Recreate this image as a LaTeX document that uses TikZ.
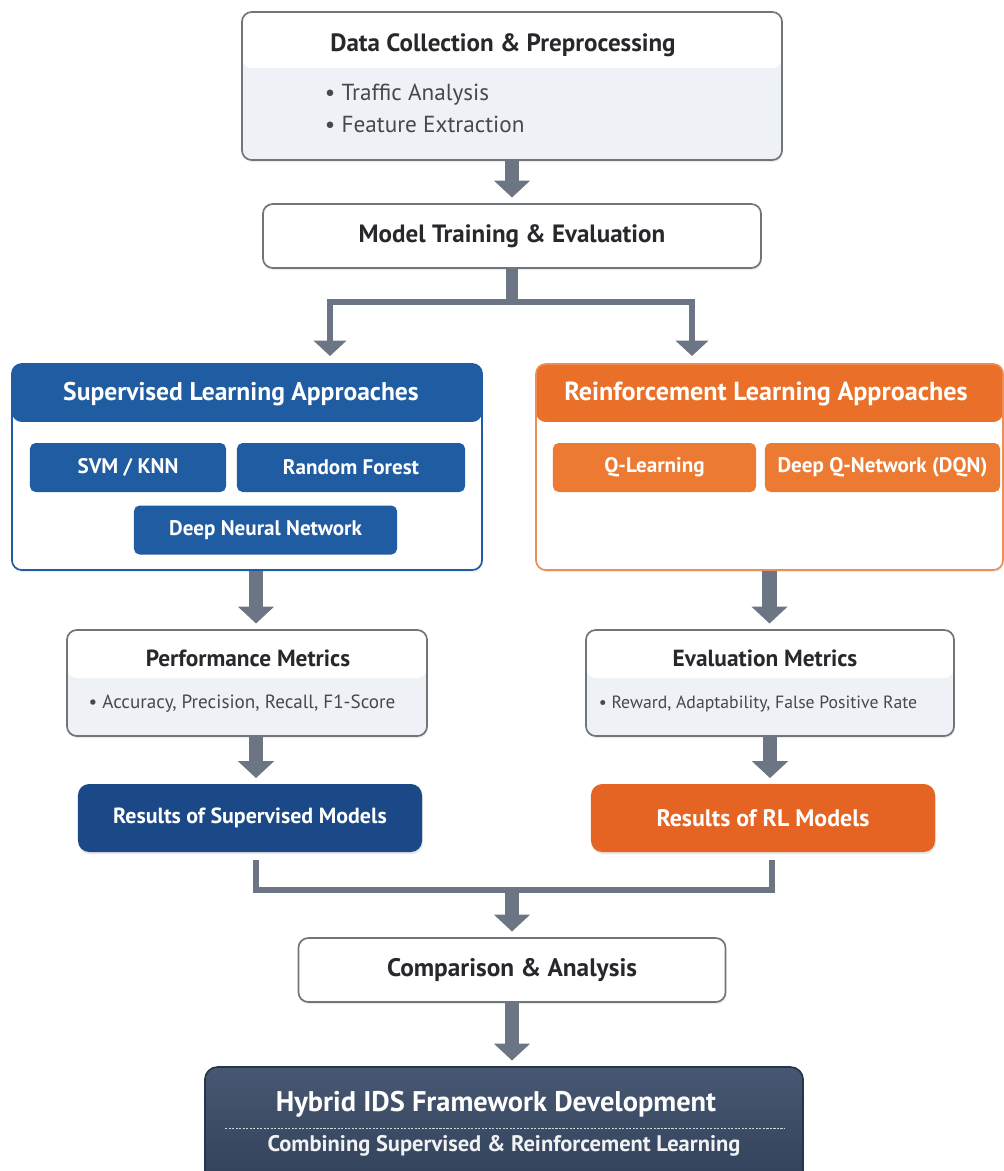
\documentclass[tikz,border=0pt]{standalone}
\usepackage{fontspec}
\setmainfont{PT Sans}
\usetikzlibrary{arrows.meta,shadows}

\definecolor{flowgray}{RGB}{108,117,131}
\definecolor{boxline}{RGB}{112,117,124}
\definecolor{bodygray}{RGB}{238,241,245}
\definecolor{inktext}{RGB}{38,40,44}
\definecolor{supblue}{RGB}{32,92,162}
\definecolor{supdark}{RGB}{27,72,134}
\definecolor{rlorange}{RGB}{234,112,42}
\definecolor{rlchip}{RGB}{236,122,50}
\definecolor{resorange}{RGB}{230,100,35}
\definecolor{slatetop}{RGB}{72,88,114}
\definecolor{slatebot}{RGB}{50,65,90}
\definecolor{slateline}{RGB}{40,52,74}

\begin{document}
\begin{tikzpicture}[x=0.025cm, y=-0.025cm,
    % box styles
    plainbox/.style={draw=boxline, line width=1.2pt, rounded corners=7pt, fill=white,
        drop shadow={shadow xshift=0.6pt, shadow yshift=-1.5pt, opacity=0.15}},
    band/.style 2 args={path picture={\fill[#1] (path picture bounding box.north west)
        rectangle ([yshift=-#2]path picture bounding box.north east);}},
    chip/.style={rounded corners=4pt, minimum height=1.225cm, text=white,
        font=\bfseries\fontsize{15}{17}\selectfont},
    resbox/.style={rounded corners=8pt, minimum width=8.6cm, minimum height=1.7cm, text=white,
        drop shadow={shadow xshift=0.6pt, shadow yshift=-1.5pt, opacity=0.2}},
    title/.style={text=inktext, font=\bfseries\fontsize{17.8}{20}\selectfont},
    headtitle/.style={text=white, font=\bfseries\fontsize{18.2}{20}\selectfont},
    metrictitle/.style={text=inktext, font=\bfseries\fontsize{16.6}{19}\selectfont},
    listtext/.style={text=inktext!85, font=\fontsize{16.5}{22.8}\selectfont},
    % connector styles
    flow/.style={draw=flowgray, line width=10pt, shorten >=4pt,
        -{Triangle[width=25pt, length=12pt]}},
    branch/.style={draw=flowgray, line width=3.6pt, line join=miter,
        -{Triangle[width=23pt, length=11pt]}},
]
\useasboundingbox (0,0) rectangle (1004,1171);

% Data collection
\node[plainbox, fill=bodygray, band={white}{1.4cm}, minimum width=13.5cm, minimum height=3.7cm] (data) at (512,86) {};
\node[title] (datatitle) at (503,45) {Data Collection \& Preprocessing};
\node[listtext, anchor=west, align=left] (datalist) at (320,108) {\textbullet\ Traffic Analysis\\\textbullet\ Feature Extraction};

% Training
\node[plainbox, title, minimum width=12.45cm, minimum height=1.6cm] (model) at (512,236) {Model Training \& Evaluation};

% Supervised branch
\node[plainbox, draw=supblue, band={supblue}{1.45cm}, minimum width=11.75cm, minimum height=5.15cm] (sup) at (247,467) {};
\node[headtitle] (suptitle) at (241,394) {Supervised Learning Approaches};
\node[chip, fill=supblue, minimum width=4.9cm] (svm) at (128,467.5) {SVM / KNN};
\node[chip, fill=supblue, minimum width=5.7cm] (rf) at (351,467.5) {Random Forest};
\node[chip, fill=supblue, minimum width=6.575cm] (dnn) at (265.5,530) {Deep Neural Network};

% Reinforcement branch
\node[plainbox, draw=rlorange!80, band={rlorange}{1.45cm}, minimum width=11.675cm, minimum height=5.15cm] (rl) at (769.5,467) {};
\node[headtitle, font=\bfseries\fontsize{18.6}{20}\selectfont] (rltitle) at (766,394) {Reinforcement Learning Approaches};
\node[chip, fill=rlchip, minimum width=5.075cm] (ql) at (654.5,467.5) {Q-Learning};
\node[chip, fill=rlchip, minimum width=5.875cm] (dqn) at (882.5,467.5) {Deep Q-Network (DQN)};

% Metrics
\node[plainbox, fill=bodygray, band={white}{1.2cm}, minimum width=9cm, minimum height=2.65cm] (perf) at (247,683) {};
\node[metrictitle] (perftitle) at (248,658) {Performance Metrics};
\node[text=inktext!85, font=\fontsize{13.6}{16}\selectfont] (perflist) at (242,704) {\textbullet\ Accuracy, Precision, Recall, F1-Score};

\node[plainbox, fill=bodygray, band={white}{1.2cm}, minimum width=9.2cm, minimum height=2.65cm] (evalm) at (770,683) {};
\node[metrictitle] (evaltitle) at (765,658) {Evaluation Metrics};
\node[text=inktext!85, font=\fontsize{12.6}{15}\selectfont] (evallist) at (758,704) {\textbullet\ Reward, Adaptability, False Positive Rate};

% Results
\node[resbox, fill=supdark, font=\bfseries\fontsize{15.6}{18}\selectfont] (ressup) at (250,818) {Results of Supervised Models};
\node[resbox, fill=resorange, font=\bfseries\fontsize{17}{19}\selectfont] (resrl) at (763,818) {Results of RL Models};

% Comparison and final framework
\node[plainbox, title, font=\bfseries\fontsize{18}{20}\selectfont, minimum width=10.675cm, minimum height=1.6cm] (comp) at (512,970) {Comparison \& Analysis};

\node[draw=slateline, line width=1.2pt, rounded corners=9pt, top color=slatetop, bottom color=slatebot,
    minimum width=14.95cm, minimum height=2.95cm] (hybrid) at (504,1126) {};
\node[text=white, font=\bfseries\fontsize{20.2}{23}\selectfont] (hybtitle) at (496,1104) {Hybrid IDS Framework Development};
\draw[white!75!slatetop, line width=0.7pt, dash pattern=on 1.5pt off 1pt] (225,1128) -- (785,1128);
\node[text=white!92!slatetop, font=\bfseries\fontsize{16}{18}\selectfont] (hybsub) at (504,1146) {Combining Supervised \& Reinforcement Learning};

% Arrows
\coordinate (fork) at (512,302);
\coordinate (supin) at (330,356);
\coordinate (rlin) at (692,356);
\coordinate (supout) at (256,860);
\coordinate (rlout) at (772,860);
\coordinate (join) at (512,890);

\draw[flow] (data) -- (model);
\draw[draw=flowgray, line width=9pt] (model.south) -- (fork);
\draw[branch] (fork) -| (supin);
\draw[branch] (fork) -| (rlin);

\draw[flow] ([xshift=0.225cm]sup.south) -- ([xshift=0.225cm]sup.south |- perf.north);
\draw[flow] (rl.south) -- (rl.south |- evalm.north);
\draw[flow] ([xshift=0.225cm]perf.south) -- ([xshift=0.225cm]perf.south |- ressup.north);
\draw[flow] (evalm.south) -- (evalm.south |- resrl.north);

\draw[branch, -] (supout) |- (join) -| (rlout);
\draw[flow] (join) -- (join |- comp.north);
\draw[flow] (comp.south) -- (comp.south |- hybrid.north);
\end{tikzpicture}
\end{document}
